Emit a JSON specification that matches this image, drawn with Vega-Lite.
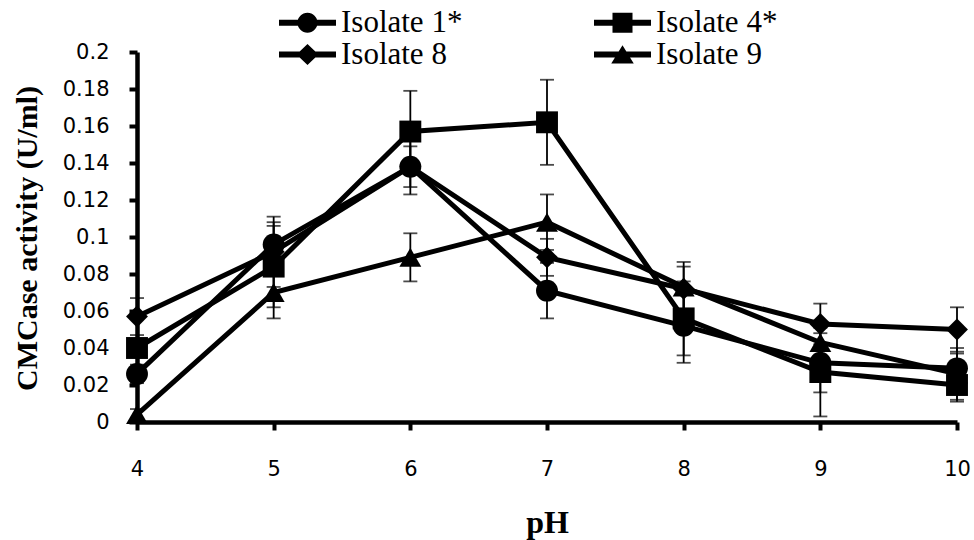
{
  "$schema": "https://vega.github.io/schema/vega-lite/v6.json",
  "width": 820,
  "height": 370,
  "autosize": {"type": "none"},
  "padding": {"left": 137, "top": 52, "right": 17, "bottom": 118},
  "background": "white",
  "config": {"view": {"stroke": null}, "axis": {"grid": false}},
  "data": {
    "values": [
      {"isolate": "Isolate 1*", "pH": 4, "activity": 0.026, "err": 0.005},
      {"isolate": "Isolate 1*", "pH": 5, "activity": 0.096, "err": 0.012},
      {"isolate": "Isolate 1*", "pH": 6, "activity": 0.138, "err": 0.015},
      {"isolate": "Isolate 1*", "pH": 7, "activity": 0.071, "err": 0.015},
      {"isolate": "Isolate 1*", "pH": 8, "activity": 0.052, "err": 0.02},
      {"isolate": "Isolate 1*", "pH": 9, "activity": 0.032, "err": 0.016},
      {"isolate": "Isolate 1*", "pH": 10, "activity": 0.029, "err": 0.008},
      {"isolate": "Isolate 4*", "pH": 4, "activity": 0.04, "err": 0.004},
      {"isolate": "Isolate 4*", "pH": 5, "activity": 0.084, "err": 0.022},
      {"isolate": "Isolate 4*", "pH": 6, "activity": 0.157, "err": 0.022},
      {"isolate": "Isolate 4*", "pH": 7, "activity": 0.162, "err": 0.023},
      {"isolate": "Isolate 4*", "pH": 8, "activity": 0.056, "err": 0.02},
      {"isolate": "Isolate 4*", "pH": 9, "activity": 0.027, "err": 0.024},
      {"isolate": "Isolate 4*", "pH": 10, "activity": 0.02, "err": 0.009},
      {"isolate": "Isolate 8", "pH": 4, "activity": 0.057, "err": 0.01},
      {"isolate": "Isolate 8", "pH": 5, "activity": 0.092, "err": 0.019},
      {"isolate": "Isolate 8", "pH": 6, "activity": 0.138, "err": 0.011},
      {"isolate": "Isolate 8", "pH": 7, "activity": 0.089, "err": 0.01},
      {"isolate": "Isolate 8", "pH": 8, "activity": 0.072, "err": 0.012},
      {"isolate": "Isolate 8", "pH": 9, "activity": 0.053, "err": 0.011},
      {"isolate": "Isolate 8", "pH": 10, "activity": 0.05, "err": 0.012},
      {"isolate": "Isolate 9", "pH": 4, "activity": 0.004, "err": 0.003},
      {"isolate": "Isolate 9", "pH": 5, "activity": 0.07, "err": 0.014},
      {"isolate": "Isolate 9", "pH": 6, "activity": 0.089, "err": 0.013},
      {"isolate": "Isolate 9", "pH": 7, "activity": 0.108, "err": 0.015},
      {"isolate": "Isolate 9", "pH": 8, "activity": 0.073, "err": 0.0135},
      {"isolate": "Isolate 9", "pH": 9, "activity": 0.043, "err": 0.01},
      {"isolate": "Isolate 9", "pH": 10, "activity": 0.026, "err": 0.014}
    ]
  },
  "encoding": {
    "x": {
      "field": "pH",
      "type": "quantitative",
      "scale": {"domain": [4, 10], "nice": false, "zero": false},
      "axis": {
        "values": [4, 5, 6, 7, 8, 9, 10],
        "format": "d",
        "title": "pH",
        "domainColor": "black",
        "domainWidth": 4.5,
        "tickColor": "black",
        "tickWidth": 4,
        "tickSize": 8,
        "labelFont": "DejaVu Sans",
        "labelFontSize": 21,
        "labelColor": "black",
        "labelPadding": 28,
        "labelFlush": false,
        "labelOverlap": false,
        "titleFont": "Liberation Serif",
        "titleFontWeight": "bold",
        "titleFontSize": 32,
        "titleColor": "black",
        "titleX": 410,
        "titleY": 110,
        "titleBaseline": "alphabetic",
        "titleAlign": "center"
      }
    },
    "y": {
      "field": "activity",
      "type": "quantitative",
      "scale": {"domain": [0, 0.2], "nice": false},
      "axis": {
        "values": [0, 0.02, 0.04, 0.06, 0.08, 0.1, 0.12, 0.14, 0.16, 0.18, 0.2],
        "format": "~g",
        "title": "CMCase activity (U/ml)",
        "domainColor": "black",
        "domainWidth": 4.5,
        "tickColor": "black",
        "tickWidth": 4,
        "tickSize": 8,
        "labelFont": "DejaVu Sans",
        "labelFontSize": 21,
        "labelColor": "black",
        "labelPadding": 20,
        "labelOverlap": false,
        "titleFont": "Liberation Serif",
        "titleFontWeight": "bold",
        "titleFontSize": 30,
        "titleColor": "black",
        "titleAngle": 270,
        "titleX": -110,
        "titleY": 186,
        "titleBaseline": "middle",
        "titleAlign": "center"
      }
    }
  },
  "layer": [
    {
      "mark": {
        "type": "errorbar",
        "color": "black",
        "thickness": 1.8,
        "ticks": {"size": 14, "thickness": 1.8, "color": "black"}
      },
      "encoding": {
        "yError": {"field": "err"},
        "detail": {"field": "isolate"}
      }
    },
    {
      "mark": {"type": "line", "color": "black", "strokeWidth": 5},
      "encoding": {"detail": {"field": "isolate"}}
    },
    {
      "mark": {"type": "point", "filled": true, "color": "black", "opacity": 1, "size": 480},
      "encoding": {
        "shape": {
          "field": "isolate",
          "type": "nominal",
          "scale": {"domain": ["Isolate 1*", "Isolate 4*", "Isolate 8", "Isolate 9"], "range": ["circle", "square", "diamond", "triangle-up"]},
          "legend": null
        }
      }
    },
    {
      "data": {"values": []},
      "mark": {"type": "point", "filled": true, "color": "black", "opacity": 1},
      "encoding": {
        "shape": {
          "field": "isolate",
          "type": "nominal",
          "scale": {
            "domain": ["Isolate 1*", "Isolate 4*", "Isolate 8", "Isolate 9"],
            "range": [
              "M-1.9,-0.2H1.9V0.2H-1.9Z M-0.667,0A0.667,0.667 0 1,1 0.667,0A0.667,0.667 0 1,1 -0.667,0Z",
              "M-1.9,-0.2H1.9V0.2H-1.9Z M-0.667,-0.667H0.667V0.667H-0.667Z",
              "M-1.9,-0.2H1.9V0.2H-1.9Z M0,-0.7L0.733,0L0,0.7L-0.733,0Z",
              "M-1.9,-0.2H1.9V0.2H-1.9Z M0,-0.62L0.75,0.6L-0.75,0.6Z"
            ]
          },
          "legend": {
            "title": null,
            "orient": "none",
            "direction": "horizontal",
            "legendX": 155,
            "legendY": -45,
            "columns": 2,
            "padding": 0,
            "rowPadding": 0,
            "columnPadding": 131,
            "labelFont": "Liberation Serif",
            "labelFontSize": 31,
            "labelColor": "black",
            "labelOffset": 18,
            "labelLimit": 300,
            "symbolSize": 900,
            "symbolFillColor": "black",
            "symbolStrokeWidth": 0,
            "symbolOpacity": 1
          }
        }
      }
    }
  ],
  "resolve": {"scale": {"shape": "independent"}, "legend": {"shape": "independent"}}
}
